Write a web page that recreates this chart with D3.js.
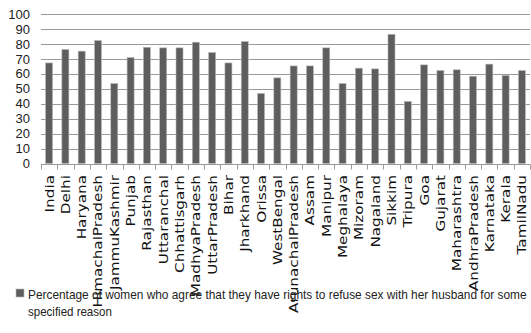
<!DOCTYPE html>
<html>
<head>
<meta charset="utf-8">
<script src="https://cdn.jsdelivr.net/npm/d3@7"></script>
<style>
  html, body { margin: 0; padding: 0; background: #fff; }
  svg { display: block; }
</style>
</head>
<body>
<svg id="chart" width="531" height="333"></svg>
<script>
const states = ["India","Delhi","Haryana","HimachalPradesh","JammuKashmir","Punjab","Rajasthan","Uttaranchal","Chhattisgarh","MadhyaPradesh","UttarPradesh","Bihar","Jharkhand","Orissa","WestBengal","ArunachalPradesh","Assam","Manipur","Meghalaya","Mizoram","Nagaland","Sikkim","Tripura","Goa","Gujarat","Maharashtra","AndhraPradesh","Karnataka","Kerala","TamilNadu"];
const agreePct = [67.4,76.4,75.3,82.4,53.6,71.0,77.9,77.5,77.5,81.3,74.4,67.4,81.7,47.0,57.4,65.4,65.4,77.5,53.6,63.9,63.4,86.6,41.6,66.1,62.3,62.8,58.5,66.6,59.0,62.3];
const yTicks = [0,10,20,30,40,50,60,70,80,90,100];
const legendLines = ["Percentage of women who agree that they have rights to refuse sex with her husband for some", "specified reason"];

const svg = d3.select("#chart");
const plot = { left: 41, right: 530, top: 14.3, bottom: 163.5 };
const narrowFont = "'Liberation Sans Narrow', 'Arial Narrow', 'Liberation Sans', sans-serif";

const x = d3.scaleBand().domain(states).range([plot.left, plot.right]).paddingInner(0.57).paddingOuter(0.28);
const y = d3.scaleLinear().domain([0, 100]).range([plot.bottom, plot.top]);

// horizontal gridlines
svg.append("g").selectAll("line").data(yTicks.slice(1)).join("line")
  .attr("x1", plot.left).attr("x2", plot.right)
  .attr("y1", d => Math.round(y(d)) + 0.5).attr("y2", d => Math.round(y(d)) + 0.5)
  .attr("stroke", "#9a9a9a").attr("stroke-width", 1);

// y axis labels
svg.append("g").selectAll("text").data(yTicks).join("text")
  .attr("x", 30).attr("y", d => y(d) + 4.5)
  .attr("text-anchor", "end")
  .attr("font-family", narrowFont)
  .attr("font-size", 13).attr("fill", "#222")
  .text(d => d);

// bars
svg.append("g").selectAll("rect").data(states).join("rect")
  .attr("x", d => x(d))
  .attr("y", (d, i) => y(agreePct[i]))
  .attr("width", x.bandwidth())
  .attr("height", (d, i) => y(0) - y(agreePct[i]))
  .attr("fill", "#5e5e5e")
  .attr("stroke", "#b8b8b8").attr("stroke-width", 0.6);

// category axis with tick marks between categories
const axisY = Math.round(y(0)) + 0.5;
svg.append("line").attr("x1", plot.left).attr("x2", plot.right)
  .attr("y1", axisY).attr("y2", axisY).attr("stroke", "#9a9a9a");
const bounds = d3.range(states.length + 1).map(i => plot.left + (plot.right - plot.left) * i / states.length);
svg.append("g").selectAll("line").data(bounds).join("line")
  .attr("x1", d => Math.round(d) + 0.5).attr("x2", d => Math.round(d) + 0.5)
  .attr("y1", axisY).attr("y2", axisY + 5)
  .attr("stroke", "#9a9a9a");

// rotated category labels, stretched along their length
const labelStretch = 1.27;
svg.append("g").selectAll("text").data(states).join("text")
  .attr("transform", d => `translate(${x(d) + x.bandwidth() / 2 + 4.5},175) rotate(-90) scale(${labelStretch},1)`)
  .attr("text-anchor", "end")
  .attr("font-family", "'DejaVu Sans', Verdana, sans-serif")
  .attr("font-size", 12).attr("fill", "#111")
  .text(d => d);

// legend
svg.append("rect").attr("x", 16).attr("y", 289).attr("width", 8).attr("height", 8)
  .attr("fill", "#5e5e5e").attr("stroke", "#b8b8b8").attr("stroke-width", 0.6);
const legendWidths = [499, 84];
legendLines.forEach((line, i) => {
  const t = svg.append("text")
    .attr("font-family", narrowFont)
    .attr("font-size", 13).attr("fill", "#222")
    .text(line);
  const natural = t.node().getComputedTextLength();
  const sx = legendWidths[i] / natural;
  t.attr("transform", `translate(28,${i === 0 ? 298.5 : 316}) scale(${sx},1)`);
});
</script>
</body>
</html>
